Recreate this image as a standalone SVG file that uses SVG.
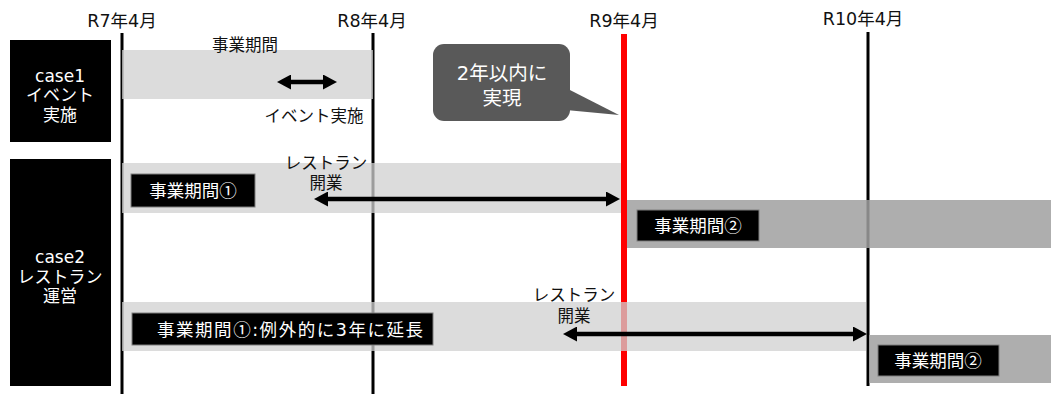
<svg xmlns="http://www.w3.org/2000/svg" width="1051" height="394" viewBox="0 0 1051 394">
<style>
text{font-family:"DejaVu Sans","Noto Sans CJK JP",sans-serif;}
.cj{font-family:"Noto Sans CJK JP",sans-serif;}
.hdr{font-size:17.5px;fill:#111;text-anchor:middle;}
.lbl{font-size:16.5px;fill:#111;text-anchor:middle;}
.case{font-size:17px;fill:#fff;text-anchor:middle;}
.wl{font-size:17.5px;fill:#fff;text-anchor:middle;}
.co{font-size:19.5px;fill:#fff;text-anchor:middle;}
.vl{stroke:#000;stroke-width:3;}
.light{fill:#d0d0d0;fill-opacity:0.75;}
.dark{fill:#a0a0a0;fill-opacity:0.85;}
.tag{fill:#000;stroke:#7f7f7f;stroke-width:1;}
.arr{stroke:#000;stroke-width:4.5;fill:none;marker-start:url(#ah);marker-end:url(#ah);}
</style>
<defs>
<marker id="ah" markerUnits="userSpaceOnUse" markerWidth="14" markerHeight="15" refX="0" refY="7.5" orient="auto-start-reverse" viewBox="0 0 14 15">
<path d="M0,0 L14,7.5 L0,15 z" fill="#000"/>
</marker>
</defs>
<rect width="1051" height="394" fill="#fff"/>

<g id="timeline">
<text class="hdr" x="122" y="27">R7年4月</text>
<text class="hdr" x="372" y="27">R8年4月</text>
<text class="hdr" x="624" y="27">R9年4月</text>
<text class="hdr" x="863" y="25">R10年4月</text>
<line class="vl" x1="122" y1="33" x2="122" y2="394"/>
<line class="vl" x1="373" y1="33" x2="373" y2="394"/>
<line x1="624" y1="34" x2="624" y2="386" stroke="#ff0000" stroke-width="6"/>
<line class="vl" x1="868" y1="32" x2="868" y2="386"/>
</g>

<g id="bands">
<rect class="light" x="122" y="50" width="251" height="49"/>
<rect class="light" x="122" y="163" width="499" height="50"/>
<rect class="dark" x="627" y="200" width="424" height="48"/>
<rect class="light" x="122" y="302" width="744" height="49"/>
<rect class="dark" x="869" y="335" width="182" height="48"/>
</g>

<g id="case1">
<rect x="10" y="40" width="101" height="102" fill="#000"/>
<text class="case" x="60" y="82" font-size="19">case1</text>
<text class="case" x="60" y="101">イベント</text>
<text class="case" x="60" y="121">実施</text>
</g>

<g id="case2">
<rect x="10" y="159" width="101" height="227" fill="#000"/>
<text class="case" x="60" y="263" font-size="19">case2</text>
<text class="case" x="60" y="283">レストラン</text>
<text class="case" x="60" y="302">運営</text>
</g>

<g id="case1-period">
<text class="lbl" x="245" y="51">事業期間</text>
<text class="lbl" x="314" y="122">イベント実施</text>
</g>

<g id="period1">
<rect class="tag" x="131" y="174" width="124" height="33"/>
<text class="wl" x="193" y="197">事業期間<tspan class="cj">①</tspan></text>
</g>

<g id="period2">
<rect class="tag" x="637" y="210" width="122" height="31"/>
<text class="wl" x="698" y="232">事業期間<tspan class="cj">②</tspan></text>
</g>

<g id="period1-ext">
<rect class="tag" x="132" y="313" width="301" height="32"/>
<text class="wl" x="290" y="336" font-size="19" textLength="266" lengthAdjust="spacing">事業期間<tspan class="cj">①</tspan>:例外的に3年に延長</text>
</g>

<g id="period2-ext">
<rect class="tag" x="878" y="345" width="121" height="31"/>
<text class="wl" x="938" y="367">事業期間<tspan class="cj">②</tspan></text>
</g>

<g id="open1">
<text class="lbl" x="326" y="169">レストラン</text>
<text class="lbl" x="326" y="189">開業</text>
</g>

<g id="open2">
<text class="lbl" x="574" y="301">レストラン</text>
<text class="lbl" x="574" y="322">開業</text>
</g>

<g id="callout">
<rect x="433" y="44" width="137" height="77" rx="11" fill="#595959"/>
<polygon points="566,88 619,115 566,110" fill="#595959"/>
<text class="co" x="502" y="80">2年以内に</text>
<text class="co" x="502" y="105">実現</text>
</g>

<g id="connectors">
<line class="arr" x1="291" y1="82" x2="323" y2="82"/>
<line class="arr" x1="328" y1="199" x2="606" y2="199"/>
<line class="arr" x1="577" y1="334" x2="853" y2="334"/>
</g>
</svg>
